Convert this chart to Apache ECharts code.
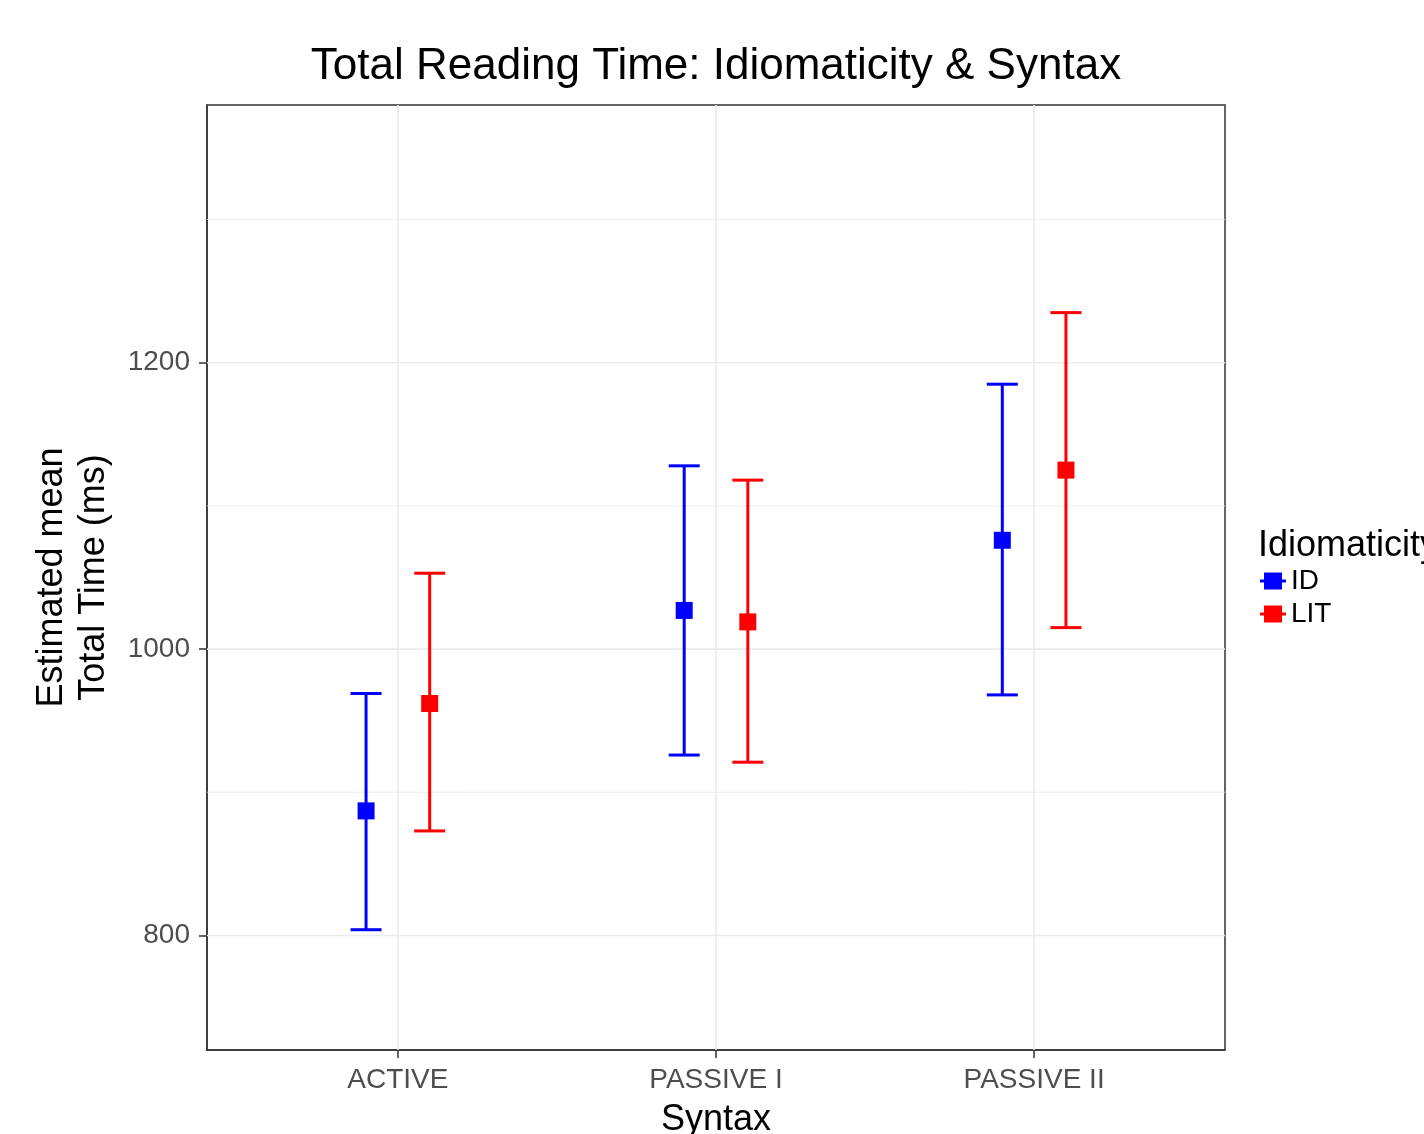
<!DOCTYPE html>
<html><head><meta charset="utf-8">
<script src="https://cdn.jsdelivr.net/npm/echarts@6/dist/echarts.min.js"></script>
<style>html,body{margin:0;padding:0;background:#fff}#c{width:1424px;height:1134px}</style>
</head><body><div id="c"></div>
<script>
// ---- data ----
const categories = ['ACTIVE', 'PASSIVE I', 'PASSIVE II'];
const groups = ['ID', 'LIT'];
const idMean  = [887, 1027, 1076];
const idLower = [804, 926, 968];
const idUpper = [969, 1128, 1185];
const litMean  = [962, 1019, 1125];
const litLower = [873, 921, 1015];
const litUpper = [1053, 1118, 1235];
const yMajorTicks = [800, 1000, 1200];
const yMinorTicks = [900, 1100, 1300];

// ---- build ----
const FONT = "'Liberation Sans', Arial, Helvetica, sans-serif";
const catPos = categories.map((c, i) => i + 1);
const dodge = 0.1;
const colors = { ID: '#0000FF', LIT: '#FF0000' };
const groupData = {
  ID: { mean: idMean, lower: idLower, upper: idUpper, off: -dodge },
  LIT: { mean: litMean, lower: litLower, upper: litUpper, off: dodge }
};

function errRender(params, api) {
  const x = api.value(0);
  const lo = api.coord([x, api.value(1)]);
  const hi = api.coord([x, api.value(2)]);
  const hw = 15.5;
  const style = { stroke: api.visual('color'), lineWidth: 3, fill: null };
  return {
    type: 'group',
    children: [
      { type: 'line', shape: { x1: lo[0], y1: lo[1], x2: hi[0], y2: hi[1] }, style },
      { type: 'line', shape: { x1: lo[0] - hw, y1: lo[1], x2: lo[0] + hw, y2: lo[1] }, style },
      { type: 'line', shape: { x1: hi[0] - hw, y1: hi[1], x2: hi[0] + hw, y2: hi[1] }, style }
    ]
  };
}

function hGridRender(width) {
  return function (params, api) {
    const cs = params.coordSys;
    const p = api.coord([1, api.value(0)]);
    return { type: 'line', shape: { x1: cs.x, y1: p[1], x2: cs.x + cs.width, y2: p[1] },
      style: { stroke: '#EBEBEB', lineWidth: width } };
  };
}
function vGridRender(params, api) {
  const cs = params.coordSys;
  const p = api.coord([api.value(0), 1000]);
  return { type: 'line', shape: { x1: p[0], y1: cs.y, x2: p[0], y2: cs.y + cs.height },
    style: { stroke: '#EBEBEB', lineWidth: 1.6 } };
}

const series = [
  { type: 'custom', name: '_gmin', z: 1, silent: true, renderItem: hGridRender(0.9),
    encode: { y: 0 }, data: yMinorTicks.map(v => [v]) },
  { type: 'custom', name: '_gmaj', z: 1, silent: true, renderItem: hGridRender(1.6),
    encode: { y: 0 }, data: yMajorTicks.map(v => [v]) },
  { type: 'custom', name: '_gv', z: 1, silent: true, renderItem: vGridRender,
    encode: { x: 0 }, data: catPos.map(v => [v]) }
];
groups.forEach(g => {
  const d = groupData[g];
  series.push({
    type: 'custom', name: g, z: 2, itemStyle: { color: colors[g] },
    renderItem: errRender, encode: { x: 0, y: [1, 2] },
    data: catPos.map((p, i) => [p + d.off, d.lower[i], d.upper[i]])
  });
  series.push({
    type: 'scatter', name: g, z: 3, symbol: 'rect', symbolSize: 17,
    itemStyle: { color: colors[g], opacity: 1 },
    data: catPos.map((p, i) => [p + d.off, d.mean[i]])
  });
});

const legendIcon = 'path://M0,7H4V0H22V7H26V10H22V17H4V10H0Z';

const option = {
  animation: false,
  textStyle: { fontFamily: FONT },
  title: [
    { text: 'Total Reading Time: Idiomaticity & Syntax', left: 711, top: 40, textAlign: 'center',
      textStyle: { fontSize: 44, fontWeight: 'normal', color: '#000', fontFamily: FONT } },
    { text: 'Idiomaticity', left: 1253, top: 523,
      textStyle: { fontSize: 36, fontWeight: 'normal', color: '#000', fontFamily: FONT } }
  ],
  legend: {
    orient: 'vertical', left: 1255, top: 562, itemWidth: 26, itemHeight: 17, itemGap: 5,
    data: groups.map(g => ({ name: g, icon: legendIcon })),
    textStyle: { fontSize: 28, color: '#000', fontFamily: FONT },
    selectedMode: false
  },
  grid: { left: 207, top: 105, width: 1018, height: 945, show: true, borderColor: '#333', borderWidth: 1.5,
    backgroundColor: 'transparent', outerBoundsMode: 'none', containLabel: false },
  xAxis: {
    type: 'value', min: 0.4, max: 3.6,
    axisLine: { show: true, onZero: false, lineStyle: { color: '#333', width: 1.5 } },
    axisTick: { show: true, customValues: catPos, length: 8, lineStyle: { color: '#333', width: 1.5 } },
    axisLabel: { customValues: catPos, formatter: v => categories[Math.round(v) - 1],
      fontSize: 28, color: '#4D4D4D', margin: 16, fontFamily: FONT },
    splitLine: { show: false },
    name: 'Syntax', nameLocation: 'middle', nameGap: 52,
    nameTextStyle: { fontSize: 36, color: '#000', fontFamily: FONT }
  },
  yAxis: {
    type: 'value', min: 720, max: 1380,
    axisLine: { show: true, lineStyle: { color: '#333', width: 1.5 } },
    axisTick: { show: true, customValues: yMajorTicks, length: 8, lineStyle: { color: '#333', width: 1.5 } },
    axisLabel: { customValues: yMajorTicks, formatter: v => String(v), fontSize: 28, color: '#4D4D4D',
      margin: 17, fontFamily: FONT },
    splitLine: { show: false },
    name: 'Estimated mean\nTotal Time (ms)', nameLocation: 'middle', nameGap: 92, nameRotate: 90,
    nameTextStyle: { fontSize: 36, lineHeight: 42, color: '#000', fontFamily: FONT }
  },
  series
};
const chart = echarts.init(document.getElementById('c'), null, { renderer: 'canvas' });
chart.setOption(option);
</script></body></html>
